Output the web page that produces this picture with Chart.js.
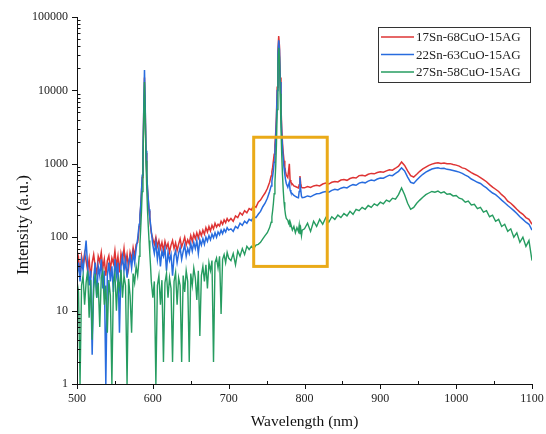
<!DOCTYPE html>
<html><head><meta charset="utf-8">
<script src="https://cdn.jsdelivr.net/npm/chart.js@4.4.1/dist/chart.umd.min.js"></script>
<style>html,body{margin:0;padding:0;background:#fff;}canvas{display:block;}</style>
</head><body>
<canvas id="c" width="546" height="434"></canvas>
<script>
// ---- data ----
const wavelengths = [
500,502,504,506,508,510,512,514,516,518,520,522,524,526,528,530,532,534,536,538,540,542,544,546,548,550,552,554,556,558,560,562,564,566,568,570,572,574,576,578,
580,581,582,583,584,585,586,587,588,589,590,591,592,593,594,595,596,597,598,
600,602,604,606,608,610,612,614,616,618,620,622,624,626,628,630,632,634,636,638,640,642,644,646,648,650,652,654,656,658,660,662,664,666,668,670,672,674,676,678,680,682,684,686,688,690,692,694,696,698,700,
703,706,709,712,715,718,721,724,727,730,733,736,739,742,745,748,751,754,
756,757,758,759,760,761,762,763,764,765,766,767,768,769,770,771,772,773,774,775,776,
778,779,780,781,782,784,786,788,790,792,793,794,795,796,797,
800,804,808,812,816,820,824,828,832,836,840,844,848,852,856,860,864,868,872,876,880,884,888,892,896,900,904,908,912,916,920,924,928,932,936,940,944,948,952,956,960,964,968,972,976,980,984,988,992,996,1000,1004,1008,1012,1016,1020,1024,1028,1032,1036,1040,1044,1048,1052,1056,1060,1064,1068,1072,1076,1080,1084,1088,1092,1096,1100
];
const sn17 = [
38,52,30,55,42,60,48,35,50,28, 45,58,40,32,55,46,62,38,50,30, 48,56,36,52,44,65,40,55,33,60, 47,70,42,58,38,62,50,72,55,80,
85,105,140,185,260,400,650,1300,5000,15000,5200,1400,720,450,320,230,180,140,115,
95,80,100,75,90,70,85,65,88,72, 82,62,78,90,70,84,66,80,95,74, 85,100,78,92,82,105,88,110,95,115, 98,120,105,125,110,135,118,140,122,145, 130,155,138,150,142,165,150,172,158,180, 165,
180,165,195,185,215,200,230,215,245,235,270,255,300,320,360,400,460,560,
680,780,900,1100,1350,1800,2600,4500,11000,35000,55000,40000,15000,6000,3000,1900,1400,1100,900,780,700,
650,800,1000,600,560,530,500,490,480,470,520,680,540,480,470,
470,490,475,500,510,500,530,545,530,560, 575,565,600,610,595,630,650,640,690,700, 685,720,740,730,760,780,770,800,830,820, 870,930,1060,950,800,690,660,720,790,850,
900,950,990,1020,1030,1010,1025,1000,1005,980, 960,930,880,860,810,760,720,690,650,610, 570,520,480,450,420,380,350,310,290,265, 240,220,205,185,175,150
];
const sn22 = [
30,45,25,48,35,55,90,40,22,35, 2.5,28,45,15,40,30,50,20,35,1, 30,45,25,40,18,50,30,45,5,40, 55,35,50,28,45,55,38,60,45,70,
95,120,150,200,270,420,700,1400,5500,19000,5800,1500,750,460,330,240,190,150,120,
78,60,85,50,72,40,65,55,70,35, 62,48,58,30,55,65,45,60,72,50, 64,78,55,70,60,82,65,85,70,90, 60,92,78,95,80,100,88,105,92,110, 98,115,100,118,108,125,112,128,118,135, 125,
130,120,140,132,155,145,165,155,175,168,190,185,205,225,260,290,340,420,
500,580,680,820,1050,1450,2200,4000,10000,32000,48000,36000,13000,5200,2600,1600,1150,880,720,610,540,
480,520,560,440,410,390,370,360,350,345,420,650,450,360,345,
350,365,355,375,390,395,410,420,410,435, 450,440,465,480,470,500,520,510,545,560, 550,580,600,590,620,640,635,670,700,690, 740,790,880,800,660,560,540,600,660,720,
770,810,850,870,880,860,870,840,830,810, 790,770,740,700,670,620,590,560,540,500, 470,430,400,380,350,320,295,270,250,230, 210,190,175,160,150,125
];
const sn27 = [
25,18,1,22,30,12,24,35,8,26, 4,20,32,15,24,6,28,34,12,22, 5,26,16,1,24,32,10,27,20,36, 15,30,22,1,27,16,5,32,24,40,
30,40,55,80,130,220,420,1000,4000,13000,4200,1100,450,230,140,90,60,40,25,
15,25,1,22,30,12,26,2,24,32, 15,28,20,2,25,33,12,28,22,2, 30,18,35,25,2,32,22,38,28,14, 35,4.5,30,40,25,42,20,45,35,48, 2,45,52,38,55,9,50,58,45,62, 52,
48,60,42,65,55,70,58,75,68,75,70,78,80,85,95,105,115,135,
160,190,230,290,390,560,900,1800,5500,22000,38000,28000,9000,3000,1300,700,430,300,240,200,180,
170,155,165,140,150,125,140,115,135,120,145,110,130,105,125,
130,155,120,165,140,175,150,185,160,190, 175,200,185,210,195,225,205,240,230,255, 240,270,255,285,270,300,285,320,305,340, 330,380,470,380,290,240,255,290,320,350,
380,400,420,410,425,400,415,385,390,365, 370,340,330,300,310,275,280,245,255,220, 230,190,200,165,175,140,150,120,130,100, 115,85,100,75,90,48
];
const seriesLabels = ['17Sn-68CuO-15AG','22Sn-63CuO-15AG','27Sn-58CuO-15AG'];
const seriesColors = ['rgb(222,52,52)','rgb(40,108,222)','rgb(38,156,96)'];
const xTickValues = [500,600,700,800,900,1000,1100];
const yTickLabels = [1,10,100,1000,10000,100000];
const highlightWave = [733,830];
const highlightIntensity = [40,2300];

const FONT = "'Liberation Serif','Times New Roman',serif";
function pts(vals){ return wavelengths.map((w,i)=>({x:w,y:vals[i]})); }

const decor = {
  id:'decor',
  afterDatasetsDraw(chart){
    const {ctx, scales:{x,y}} = chart;
    ctx.save();
    ctx.strokeStyle = 'rgb(234,170,24)';
    ctx.lineWidth = 3;
    const x0 = x.getPixelForValue(highlightWave[0]), x1 = x.getPixelForValue(highlightWave[1]);
    const y0 = y.getPixelForValue(highlightIntensity[1]), y1 = y.getPixelForValue(highlightIntensity[0]);
    ctx.strokeRect(x0, y0, x1-x0, y1-y0);
    ctx.restore();
  },
  afterDraw(chart){
    const {ctx, chartArea:a, scales:{x,y}} = chart;
    ctx.save();
    ctx.strokeStyle = '#111'; ctx.lineWidth = 1;
    ctx.beginPath();
    ctx.moveTo(a.left+0.5, a.top); ctx.lineTo(a.left+0.5, a.bottom+0.5); ctx.lineTo(a.right, a.bottom+0.5);
    for (let e=0; e<=5; e++){
      const v = Math.pow(10,e);
      const p = Math.round(y.getPixelForValue(v))+0.5;
      ctx.moveTo(a.left-5, p); ctx.lineTo(a.left+0.5, p);
      if (e<5) for (let m=2;m<=9;m++){
        const q = Math.round(y.getPixelForValue(m*v))+0.5;
        ctx.moveTo(a.left, q); ctx.lineTo(a.left+3.5, q);
      }
    }
    xTickValues.forEach((v,i)=>{
      const p = Math.round(x.getPixelForValue(v))+0.5;
      ctx.moveTo(p, a.bottom); ctx.lineTo(p, a.bottom+5);
      if (i < xTickValues.length-1){
        const q = Math.round(x.getPixelForValue(v+50))+0.5;
        ctx.moveTo(q, a.bottom); ctx.lineTo(q, a.bottom-3);
      }
    });
    ctx.stroke();
    ctx.fillStyle = '#111';
    ctx.textAlign = 'center'; ctx.textBaseline = 'middle';
    ctx.font = `15.5px ${FONT}`;
    ctx.fillText('Wavelength (nm)', (a.left+a.right)/2, 422);
    ctx.save();
    ctx.translate(24, 225); ctx.rotate(-Math.PI/2);
    ctx.font = `17px ${FONT}`;
    ctx.fillText('Intensity (a.u.)', 0, 0);
    ctx.restore();
    const bx = 378, by = 27, bw = 152, bh = 55;
    ctx.fillStyle = '#fff'; ctx.fillRect(bx, by, bw, bh);
    ctx.strokeStyle = '#333'; ctx.lineWidth = 1;
    ctx.strokeRect(bx+0.5, by+0.5, bw, bh);
    ctx.font = `13px ${FONT}`; ctx.textAlign = 'left'; ctx.textBaseline = 'middle';
    seriesLabels.forEach((lab,i)=>{
      const ry = by + 10 + i*17.5;
      ctx.strokeStyle = seriesColors[i]; ctx.lineWidth = 1.5;
      ctx.beginPath(); ctx.moveTo(bx+3, ry); ctx.lineTo(bx+36, ry); ctx.stroke();
      ctx.fillStyle = '#222';
      ctx.fillText(lab, bx+38, ry+1);
    });
    ctx.restore();
  }
};

new Chart(document.getElementById('c'), {
  type:'line',
  data:{datasets:[
    {label:seriesLabels[0], data:pts(sn17), borderColor:seriesColors[0], borderWidth:1.5, pointRadius:0, order:3},
    {label:seriesLabels[1], data:pts(sn22), borderColor:seriesColors[1], borderWidth:1.5, pointRadius:0, order:2},
    {label:seriesLabels[2], data:pts(sn27), borderColor:seriesColors[2], borderWidth:1.4, pointRadius:0, order:1}
  ]},
  options:{
    responsive:false, animation:false, devicePixelRatio:1,
    parsing:false, normalized:true,
    layout:{padding:{top:17,right:14,left:0,bottom:0}},
    plugins:{legend:{display:false}, tooltip:{enabled:false}},
    elements:{line:{tension:0}},
    scales:{
      x:{type:'linear', min:500, max:1100,
         afterBuildTicks(s){ s.ticks = xTickValues.map(v=>({value:v})); },
         ticks:{callback:v=>String(v), font:{family:FONT,size:12}, color:'#222', padding:8, maxRotation:0, autoSkip:false},
         grid:{display:false, drawTicks:false}, border:{display:false},
         afterFit(s){ s.height = 50; s.paddingLeft = 0; s.paddingRight = 0; }},
      y:{type:'logarithmic', min:1, max:100000,
         afterBuildTicks(s){ s.ticks = yTickLabels.map(v=>({value:v})); },
         ticks:{callback:v=>String(v), font:{family:FONT,size:12}, color:'#222', padding:9, autoSkip:false},
         grid:{display:false, drawTicks:false}, border:{display:false},
         afterFit(s){ s.width = 77; s.paddingTop = 0; s.paddingBottom = 0; }}
    }
  },
  plugins:[decor]
});
</script>
</body></html>
